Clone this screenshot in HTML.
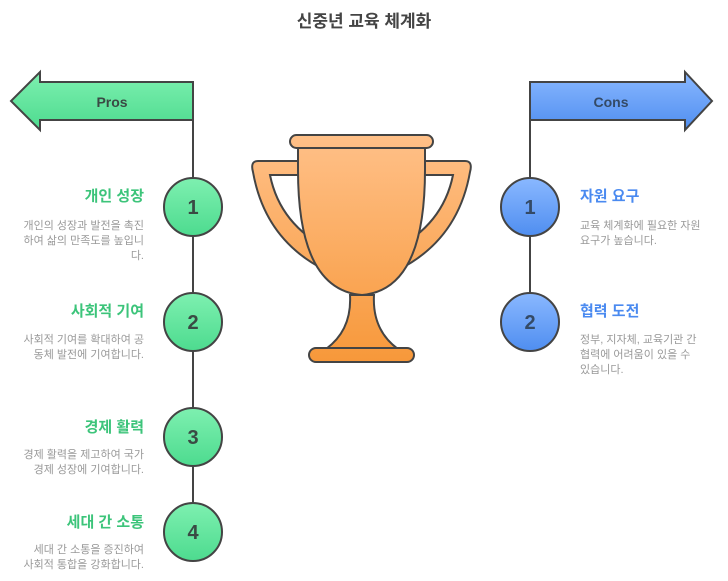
<!DOCTYPE html>
<html><head><meta charset="utf-8"><style>
body{margin:0;width:728px;height:581px;background:#fff;overflow:hidden}
svg{display:block}
text{font-family:"Liberation Sans","Noto Sans CJK KR",sans-serif}
</style></head><body>
<svg width="728" height="581" viewBox="0 0 728 581">
<defs>
<linearGradient id="g" x1="0" y1="0" x2="0" y2="1"><stop offset="0" stop-color="#7ef0b0"/><stop offset="1" stop-color="#4ddb8f"/></linearGradient>
<linearGradient id="b" x1="0" y1="0" x2="0" y2="1"><stop offset="0" stop-color="#8ab8ff"/><stop offset="1" stop-color="#4f8ef0"/></linearGradient>
<linearGradient id="o" gradientUnits="userSpaceOnUse" x1="0" y1="135" x2="0" y2="362"><stop offset="0" stop-color="#ffc088"/><stop offset="1" stop-color="#f7983a"/></linearGradient>
</defs>
<text x="364" y="27" text-anchor="middle" font-size="17" font-weight="bold" fill="#444">신중년 교육 체계화</text>
<line x1="193" y1="82" x2="193" y2="510" stroke="#444" stroke-width="2"/>
<line x1="530" y1="82" x2="530" y2="322" stroke="#444" stroke-width="2"/>
<path d="M193,82 L40,82 L40,72 L11,101 L40,130 L40,120 L193,120 Z" fill="url(#g)" stroke="#444" stroke-width="2"/>
<text x="112" y="107" text-anchor="middle" font-size="14" font-weight="bold" fill="#3a4a44">Pros</text>
<path d="M530,82 L685,82 L685,72 L712,101 L685,130 L685,120 L530,120 Z" fill="url(#b)" stroke="#444" stroke-width="2"/>
<text x="611" y="107" text-anchor="middle" font-size="14" font-weight="bold" fill="#344a66">Cons</text>
<g stroke="#444" stroke-width="2" fill="url(#g)">
<circle cx="193" cy="207" r="29"/><circle cx="193" cy="322" r="29"/><circle cx="193" cy="437" r="29"/><circle cx="193" cy="532" r="29"/>
</g>
<g stroke="#444" stroke-width="2" fill="url(#b)">
<circle cx="530" cy="207" r="29"/><circle cx="530" cy="322" r="29"/>
</g>
<g font-size="20" font-weight="bold" fill="#3a4a44" text-anchor="middle">
<text x="193" y="214">1</text><text x="193" y="329">2</text><text x="193" y="444">3</text><text x="193" y="539">4</text>
<text x="530" y="214" fill="#344a66">1</text><text x="530" y="329" fill="#344a66">2</text>
</g>
<g text-anchor="end">
<g font-size="15" font-weight="bold" fill="#3cc47a">
<text x="144" y="201">개인 성장</text><text x="144" y="316">사회적 기여</text><text x="144" y="432">경제 활력</text><text x="144" y="527">세대 간 소통</text>
</g>
<g font-size="11" fill="#999">
<text x="144" y="229">개인의 성장과 발전을 촉진</text><text x="144" y="244">하여 삶의 만족도를 높입니</text><text x="144" y="259">다.</text>
<text x="144" y="343">사회적 기여를 확대하여 공</text><text x="144" y="358">동체 발전에 기여합니다.</text>
<text x="144" y="458">경제 활력을 제고하여 국가</text><text x="144" y="473">경제 성장에 기여합니다.</text>
<text x="144" y="553">세대 간 소통을 증진하여</text><text x="144" y="568">사회적 통합을 강화합니다.</text>
</g>
</g>
<g font-size="15" font-weight="bold" fill="#4a8af0">
<text x="580" y="201">자원 요구</text><text x="580" y="316">협력 도전</text>
</g>
<g font-size="11" fill="#999">
<text x="580" y="229">교육 체계화에 필요한 자원</text><text x="580" y="244">요구가 높습니다.</text>
<text x="580" y="343">정부, 지자체, 교육기관 간</text><text x="580" y="358">협력에 어려움이 있을 수</text><text x="580" y="373">있습니다.</text>
</g>
<g stroke="#444" stroke-width="2" fill="url(#o)">
<path d="M300,161 L258,161 Q250,161 253,172 Q265,240 325,270 L330,250 Q280,225 270,175 L300,175 Z"/>
<path d="M423,161 L465,161 Q473,161 470,172 Q458,240 398,270 L393,250 Q443,225 453,175 L423,175 Z"/>
<path d="M350,295 Q352,330 326,349 L398,349 Q372,330 374,295 Z"/>
<path d="M298,148 L425,148 L425,170 Q425,290 362,295 Q298,290 298,170 Z"/>
<rect x="290" y="135" width="143" height="13" rx="6.5"/>
<rect x="309" y="348" width="105" height="14" rx="7"/>
</g>
</svg>
</body></html>
